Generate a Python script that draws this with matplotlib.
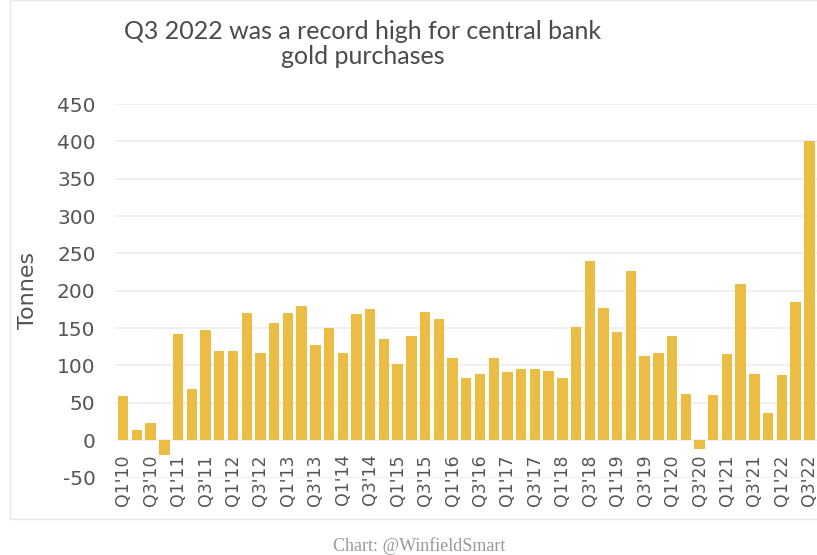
import matplotlib
matplotlib.use("Agg")
import matplotlib.pyplot as plt
from matplotlib.patches import Rectangle

# Central bank net gold purchases, tonnes, Q1'10 .. Q3'22
quarters = [f"Q{q}'{y:02d}" for y in range(10, 23) for q in range(1, 5)][:51]
tonnes = [
    59, 13, 23, -20,
    142, 68, 148, 119,
    120, 170, 117, 157,
    170, 180, 127, 150,
    117, 169, 176, 135,
    102, 140, 172, 162,
    110, 83, 88, 110,
    91, 95, 95, 92,
    83, 152, 240, 177,
    145, 227, 112, 117,
    139, 62, -12, 60,
    115, 209, 89, 37,
    87, 185, 400,
]
yticks = list(range(-50, 451, 50))

BAR = "#ECBD45"
TXT = "#555555"

plt.rcParams["font.family"] = ["DejaVu Sans"]

fig = plt.figure(figsize=(8.17, 5.55), dpi=100)
W, H = 817, 555
ax = fig.add_axes([115 / W, 1 - 477.5 / H, (817 - 115) / W, (477.5 - 104) / H])

x = list(range(len(tonnes)))
ax.bar(x, tonnes, width=0.76, color=BAR, zorder=2)

ax.set_ylim(-50, 450)
ax.set_xlim(-0.6, 50.56)
ax.set_yticks(yticks)
ax.set_yticklabels([str(v) for v in yticks], fontsize=14.5, color=TXT)
ax.yaxis.grid(True, color="#eeeeee", linewidth=1.2, zorder=0)
ax.tick_params(axis="y", length=0, pad=14)

# category labels on every other quarter, hung under the zero line
ax.spines["bottom"].set_position(("data", 0))
ax.set_xticks(x[::2])
ax.set_xticklabels(quarters[::2], rotation=90, fontsize=12.5, color=TXT)
ax.tick_params(axis="x", length=0, pad=10)
for s in ax.spines.values():
    s.set_visible(False)

ax.set_ylabel("Tonnes", fontsize=16, color=TXT)
ax.yaxis.set_label_coords(-0.11, 0.5)

fig.text(363 / W, 1 - 44 / H, "Q3 2022 was a record high for central bank\ngold purchases",
         ha="center", va="center", fontsize=18, color="#4a4a4a", linespacing=1.15,
         family=["Lato", "DejaVu Sans"])
fig.text(419 / W, 1 - 546 / H, "Chart: @WinfieldSmart", ha="center", va="center",
         fontsize=13, color="#999999", family=["Liberation Serif", "DejaVu Serif"])

# faint frame around the chart panel
fig.patches.append(Rectangle((10 / W, 1 - 519 / H), 1, 519 / H, transform=fig.transFigure,
                             fill=False, edgecolor="#e6e6e6", linewidth=1))

fig.savefig("out.png", dpi=100)
